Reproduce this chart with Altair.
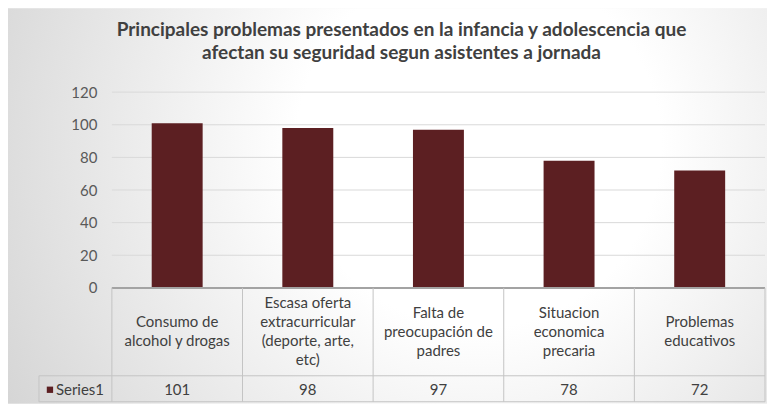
import altair as alt
import pandas as pd

# ---- data ----
categories = [
    "Consumo de\nalcohol y drogas",
    "Escasa oferta\nextracurricular\n(deporte, arte,\netc)",
    "Falta de\npreocupación de\npadres",
    "Situacion\neconomica\nprecaria",
    "Problemas\neducativos",
]
values = [101, 98, 97, 78, 72]
series_name = "Series1"
y_ticks = [0, 20, 40, 60, 80, 100, 120]
title_lines = [
    "Principales problemas presentados en la infancia y adolescencia que",
    "afectan su seguridad segun asistentes a jornada",
]

df = pd.DataFrame({"cat": categories, "val": values})
df["nlines"] = df["cat"].str.count("\n") + 1

# ---- layout / style ----
W, H = 654, 196
PL, PT, PR, PB = 104, 84, 2, 116
ROW_DIV, TABLE_BOTTOM, CELL_LEFT = 284, 310, -73
BAR = "#5c1f22"
FONT = "Lato"
LINE = "#c4c4c4"
FS = 15
LH = 19

xs = alt.Scale(domain=categories, paddingInner=0, paddingOuter=0)
ys = alt.Scale(domain=[0, 120], nice=False)
yaxis = alt.Axis(values=y_ticks, grid=False, domain=False, ticks=False,
                 labelFontSize=FS, labelColor="#595959", labelFont=FONT,
                 labelPadding=15, title=None, zindex=1)
X = alt.X("cat:N", scale=xs, axis=None, sort=None)
one = alt.Data(values=[{}])

bg = alt.Chart(one).mark_rect(
    fill=alt.RadialGradient(
        gradient="radial",
        x1=0.62, y1=0.42, r1=0.0,
        x2=0.62, y2=0.42, r2=0.8,
        stops=[alt.GradientStop(color="#ffffff", offset=0.0),
               alt.GradientStop(color="#ffffff", offset=0.3),
               alt.GradientStop(color="#cdcdcd", offset=1.0)],
    )
).encode(x=alt.value(-PL), x2=alt.value(W + PR), y=alt.value(-PT), y2=alt.value(H + PB))

grid = alt.Chart(pd.DataFrame({"t": y_ticks})).mark_rule(color="#d9d9d9", strokeWidth=1).encode(
    y=alt.Y("t:Q", scale=ys, axis=yaxis), x=alt.value(0), x2=alt.value(W)
)

bars = alt.Chart(df).mark_bar(color=BAR, width=alt.RelativeBandSize(0.39)).encode(
    x=X, y=alt.Y("val:Q", scale=ys, axis=yaxis)
)

vlines = alt.Chart(df).mark_rule(color=LINE).encode(
    x=alt.X("cat:N", scale=xs, axis=None, sort=None, bandPosition=0),
    y=alt.value(H), y2=alt.value(TABLE_BOTTOM)
)
vright = alt.Chart(one).mark_rule(color=LINE).encode(
    x=alt.value(W), y=alt.value(H), y2=alt.value(TABLE_BOTTOM))
vleft = alt.Chart(one).mark_rule(color=LINE).encode(
    x=alt.value(CELL_LEFT), y=alt.value(ROW_DIV), y2=alt.value(TABLE_BOTTOM))
hdiv = alt.Chart(one).mark_rule(color=LINE).encode(
    x=alt.value(CELL_LEFT), x2=alt.value(W), y=alt.value(ROW_DIV))
hbot = alt.Chart(one).mark_rule(color=LINE).encode(
    x=alt.value(CELL_LEFT), x2=alt.value(W), y=alt.value(TABLE_BOTTOM))
haxis = alt.Chart(one).mark_rule(color="#a3a3a3", strokeWidth=2).encode(
    x=alt.value(0), x2=alt.value(W), y=alt.value(H))

# category labels: one layer per line count so each block is vertically centred
cat_layers = []
for n in sorted(df["nlines"].unique()):
    cat_layers.append(
        alt.Chart(df).transform_filter(alt.datum.nlines == int(n)).mark_text(
            lineBreak="\n", fontSize=FS, color="#404040", font=FONT, lineHeight=LH,
            baseline="middle", dy=-(int(n) - 1) * LH / 2
        ).encode(x=X, y=alt.value((H + ROW_DIV) / 2), text="cat:N")
    )

val_text = alt.Chart(df).mark_text(
    fontSize=FS, color="#404040", font=FONT, baseline="middle"
).encode(x=X, y=alt.value((ROW_DIV + TABLE_BOTTOM) / 2 + 1), text="val:Q")

sq = alt.Chart(one).mark_square(size=40, color=BAR, opacity=1).encode(
    x=alt.value(CELL_LEFT + 11), y=alt.value((ROW_DIV + TABLE_BOTTOM) / 2 + 1))
ser_text = alt.Chart(pd.DataFrame({"s": [series_name]})).mark_text(
    fontSize=FS, color="#404040", font=FONT, baseline="middle", align="left"
).encode(x=alt.value(CELL_LEFT + 17), y=alt.value((ROW_DIV + TABLE_BOTTOM) / 2 + 1), text="s:N")

title = alt.Chart(pd.DataFrame({"t": ["\n".join(title_lines)]})).mark_text(
    lineBreak="\n", fontSize=19, fontWeight="bold", color="#404040", font=FONT,
    lineHeight=23, baseline="middle", align="center"
).encode(x=alt.value(290), y=alt.value(-62), text="t:N")

chart = alt.layer(
    bg, grid, bars, haxis, vlines, vright, vleft, hdiv, hbot,
    *cat_layers, val_text, sq, ser_text, title
).properties(
    width=W, height=H,
    padding={"left": PL, "top": PT, "right": PR, "bottom": PB},
    autosize=alt.AutoSizeParams(type="none"),
).configure_view(stroke=None)

chart.save("out.html", embed_options={"renderer": "svg", "actions": False})
